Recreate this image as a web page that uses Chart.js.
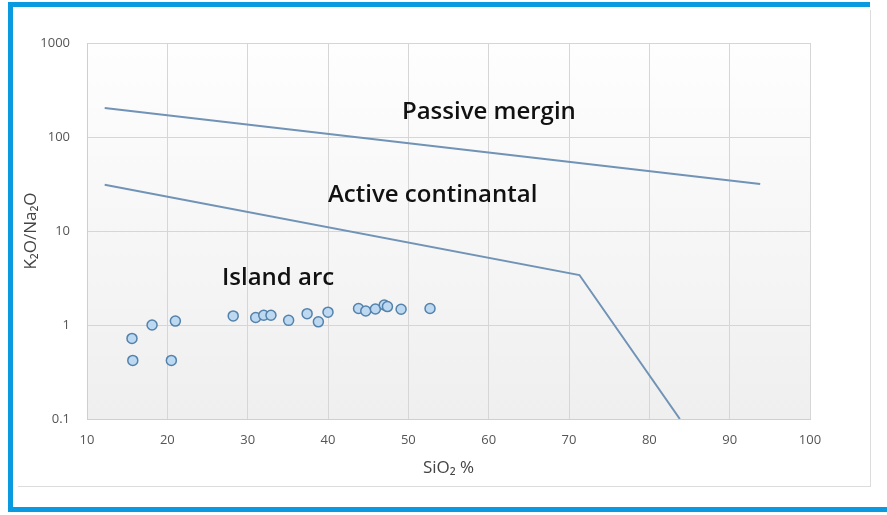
<!DOCTYPE html>
<html>
<head>
<meta charset="utf-8">
<script src="https://cdn.jsdelivr.net/npm/chart.js@4.4.1/dist/chart.umd.min.js"></script>
<style>
  body { margin: 0; background: #ffffff; }
  #wrap { position: relative; width: 887px; height: 515px; overflow: hidden; }
  .bar { position: absolute; background: #0a9ae0; }
  .edge { position: absolute; background: #dcdcdc; }
  canvas { position: absolute; left: 0; top: 0; }
</style>
</head>
<body>
<div id="wrap">
  <div class="bar" style="left:8px;top:2px;width:862px;height:5px;"></div>
  <div class="bar" style="left:8px;top:2px;width:5px;height:510px;"></div>
  <div class="bar" style="left:8px;top:507px;width:879px;height:5px;"></div>
  <div class="edge" style="left:18px;top:486px;width:852px;height:1px;"></div>
  <div class="edge" style="left:870px;top:10px;width:1px;height:477px;"></div>
  <canvas id="myChart" width="887" height="515"></canvas>
</div>
<script>
// tectonic setting boundary lines
const passiveX = [12.2, 93.8];
const passiveY = [204, 31.6];
const activeX = [12.2, 71.3, 83.8];
const activeY = [31, 3.4, 0.1];

// samples
const sampleSiO2 = [15.6, 15.7, 18.1, 20.5, 21.0, 28.2, 31.0, 32.0, 32.9, 35.1, 37.4, 38.8, 40.0, 43.8, 44.7, 45.9, 47.0, 47.4, 49.1, 52.7];
const sampleRatio = [0.72, 0.42, 1.0, 0.42, 1.1, 1.25, 1.2, 1.27, 1.27, 1.12, 1.32, 1.08, 1.37, 1.5, 1.41, 1.48, 1.63, 1.57, 1.47, 1.5];

const xTicks = [10, 20, 30, 40, 50, 60, 70, 80, 90, 100];
const yTicks = [0.1, 1, 10, 100, 1000];

const fieldNames = ["Passive mergin", "Active continantal", "Island arc"];
const fieldAt = [[49.2, 184], [40.0, 24], [26.8, 3.16]];

function toPoints(xs, ys) {
  return xs.map((x, i) => ({ x: x, y: ys[i] }));
}

const plotBackground = {
  id: "plotBackground",
  beforeDraw(chart) {
    const { ctx, chartArea } = chart;
    const g = ctx.createLinearGradient(0, chartArea.top, 0, chartArea.bottom);
    g.addColorStop(0, "#fefefe");
    g.addColorStop(1, "#efefef");
    ctx.save();
    ctx.fillStyle = g;
    ctx.fillRect(chartArea.left, chartArea.top, chartArea.right - chartArea.left, chartArea.bottom - chartArea.top);
    ctx.restore();
  },
};

const fieldLabels = {
  id: "fieldLabels",
  afterDatasetsDraw(chart) {
    const { ctx, scales } = chart;
    ctx.save();
    ctx.font = "600 24px 'Open Sans', sans-serif";
    ctx.fillStyle = "#111111";
    ctx.textAlign = "left";
    ctx.textBaseline = "middle";
    fieldNames.forEach((name, i) => {
      ctx.fillText(name, scales.x.getPixelForValue(fieldAt[i][0]), scales.y.getPixelForValue(fieldAt[i][1]));
    });
    ctx.restore();
  },
};

const lineColor = "#7093b6";

new Chart(document.getElementById("myChart"), {
  type: "scatter",
  data: {
    datasets: [
      {
        label: "Passive margin",
        data: toPoints(passiveX, passiveY),
        showLine: true,
        borderColor: lineColor,
        borderWidth: 2,
        pointRadius: 0,
      },
      {
        label: "Active continental",
        data: toPoints(activeX, activeY),
        showLine: true,
        borderColor: lineColor,
        borderWidth: 2,
        pointRadius: 0,
      },
      {
        label: "Samples",
        data: toPoints(sampleSiO2, sampleRatio),
        backgroundColor: "#bcd9f1",
        borderColor: "#5482ab",
        borderWidth: 1.5,
        pointRadius: 5,
      },
    ],
  },
  options: {
    responsive: false,
    animation: false,
    layout: { padding: { left: 18, top: 43, right: 77, bottom: 36 } },
    scales: {
      x: {
        type: "linear",
        min: 10,
        max: 100,
        afterBuildTicks: (axis) => { axis.ticks = xTicks.map((v) => ({ value: v })); },
        afterFit: (axis) => { axis.height = 60; },
        ticks: {
          padding: 13,
          color: "#555555",
          font: { size: 13, family: "'Open Sans', sans-serif" },
        },
        grid: { color: "#d6d6d6", drawTicks: false },
        border: { color: "#cfcfcf" },
        title: {
          display: true,
          text: "SiO\u2082 %",
          color: "#444444",
          font: { size: 17, family: "'Open Sans', sans-serif" },
          padding: { top: 0, bottom: 1 },
        },
      },
      y: {
        type: "logarithmic",
        min: 0.1,
        max: 1000,
        afterBuildTicks: (axis) => { axis.ticks = yTicks.map((v) => ({ value: v })); },
        afterFit: (axis) => { axis.width = 69; },
        ticks: {
          padding: 17,
          color: "#555555",
          font: { size: 13, family: "'Open Sans', sans-serif" },
          callback: (value) => String(value),
        },
        grid: { color: "#d6d6d6", drawTicks: false },
        border: { color: "#cfcfcf" },
        title: {
          display: true,
          text: "K\u2082O/Na\u2082O",
          color: "#444444",
          font: { size: 17, family: "'Open Sans', sans-serif" },
          padding: { top: 3, bottom: 0 },
        },
      },
    },
    plugins: {
      legend: { display: false },
      tooltip: { enabled: false },
    },
  },
  plugins: [plotBackground, fieldLabels],
});
</script>
</body>
</html>
